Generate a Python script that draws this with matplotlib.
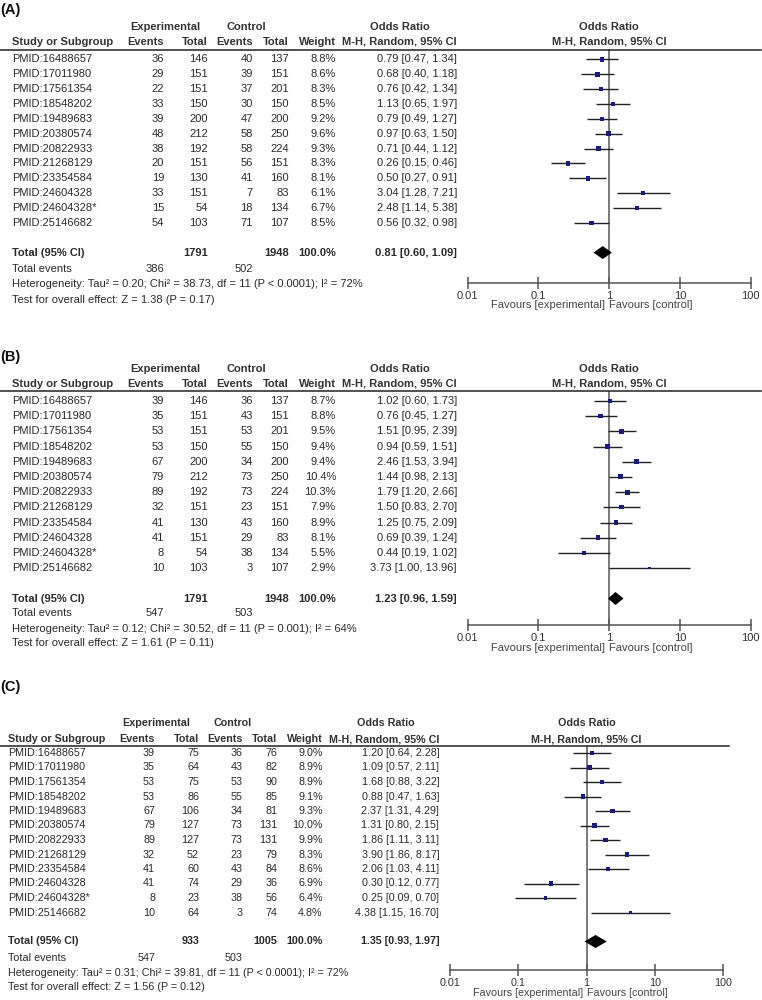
import matplotlib
matplotlib.use("Agg")
import matplotlib.pyplot as plt
from matplotlib.lines import Line2D
import numpy as np

plt.rcParams['font.family'] = ['Liberation Sans', 'DejaVu Sans']

# ---------------- data ----------------
studies = ["PMID:16488657", "PMID:17011980", "PMID:17561354", "PMID:18548202",
           "PMID:19489683", "PMID:20380574", "PMID:20822933", "PMID:21268129",
           "PMID:23354584", "PMID:24604328", "PMID:24604328*", "PMID:25146682"]

# Panel A
a_exp_events = [36, 29, 22, 33, 39, 48, 38, 20, 19, 33, 15, 54]
a_exp_total = [146, 151, 151, 150, 200, 212, 192, 151, 130, 151, 54, 103]
a_ctl_events = [40, 39, 37, 30, 47, 58, 58, 56, 41, 7, 18, 71]
a_ctl_total = [137, 151, 201, 150, 200, 250, 224, 151, 160, 83, 134, 107]
a_weight = [8.8, 8.6, 8.3, 8.5, 9.2, 9.6, 9.3, 8.3, 8.1, 6.1, 6.7, 8.5]
a_or = [0.79, 0.68, 0.76, 1.13, 0.79, 0.97, 0.71, 0.26, 0.50, 3.04, 2.48, 0.56]
a_lo = [0.47, 0.40, 0.42, 0.65, 0.49, 0.63, 0.44, 0.15, 0.27, 1.28, 1.14, 0.32]
a_hi = [1.34, 1.18, 1.34, 1.97, 1.27, 1.50, 1.12, 0.46, 0.91, 7.21, 5.38, 0.98]
a_total = (1791, 1948, 100.0, 0.81, 0.60, 1.09)
a_events = (386, 502)
a_het = "Heterogeneity: Tau² = 0.20; Chi² = 38.73, df = 11 (P < 0.0001); I² = 72%"
a_test = "Test for overall effect: Z = 1.38 (P = 0.17)"

# Panel B
b_exp_events = [39, 35, 53, 53, 67, 79, 89, 32, 41, 41, 8, 10]
b_exp_total = [146, 151, 151, 150, 200, 212, 192, 151, 130, 151, 54, 103]
b_ctl_events = [36, 43, 53, 55, 34, 73, 73, 23, 43, 29, 38, 3]
b_ctl_total = [137, 151, 201, 150, 200, 250, 224, 151, 160, 83, 134, 107]
b_weight = [8.7, 8.8, 9.5, 9.4, 9.4, 10.4, 10.3, 7.9, 8.9, 8.1, 5.5, 2.9]
b_or = [1.02, 0.76, 1.51, 0.94, 2.46, 1.44, 1.79, 1.50, 1.25, 0.69, 0.44, 3.73]
b_lo = [0.60, 0.45, 0.95, 0.59, 1.53, 0.98, 1.20, 0.83, 0.75, 0.39, 0.19, 1.00]
b_hi = [1.73, 1.27, 2.39, 1.51, 3.94, 2.13, 2.66, 2.70, 2.09, 1.24, 1.02, 13.96]
b_total = (1791, 1948, 100.0, 1.23, 0.96, 1.59)
b_events = (547, 503)
b_het = "Heterogeneity: Tau² = 0.12; Chi² = 30.52, df = 11 (P = 0.001); I² = 64%"
b_test = "Test for overall effect: Z = 1.61 (P = 0.11)"

# Panel C
c_exp_events = [39, 35, 53, 53, 67, 79, 89, 32, 41, 41, 8, 10]
c_exp_total = [75, 64, 75, 86, 106, 127, 127, 52, 60, 74, 23, 64]
c_ctl_events = [36, 43, 53, 55, 34, 73, 73, 23, 43, 29, 38, 3]
c_ctl_total = [76, 82, 90, 85, 81, 131, 131, 79, 84, 36, 56, 74]
c_weight = [9.0, 8.9, 8.9, 9.1, 9.3, 10.0, 9.9, 8.3, 8.6, 6.9, 6.4, 4.8]
c_or = [1.20, 1.09, 1.68, 0.88, 2.37, 1.31, 1.86, 3.90, 2.06, 0.30, 0.25, 4.38]
c_lo = [0.64, 0.57, 0.88, 0.47, 1.31, 0.80, 1.11, 1.86, 1.03, 0.12, 0.09, 1.15]
c_hi = [2.28, 2.11, 3.22, 1.63, 4.29, 2.15, 3.11, 8.17, 4.11, 0.77, 0.70, 16.70]
c_total = (933, 1005, 100.0, 1.35, 0.93, 1.97)
c_events = (547, 503)
c_het = "Heterogeneity: Tau² = 0.31; Chi² = 39.81, df = 11 (P < 0.0001); I² = 72%"
c_test = "Test for overall effect: Z = 1.56 (P = 0.12)"

tick_vals = [0.01, 0.1, 1, 10, 100]
tick_labels = ["0.01", "0.1", "1", "10", "100"]

# ---------------- figure ----------------
W, H = 762, 1000
fig = plt.figure(figsize=(W / 100, H / 100), dpi=100)

TXT = '#2a2a2a'
HDR = '#333333'


def fx(x):
    return x / W


def fy(y):
    return 1 - y / H


def t(x, y, s, ha='left', bold=False, size=8, color=TXT):
    fig.text(fx(x), fy(y), s, ha=ha, va='center', fontsize=size,
             fontweight='bold' if bold else 'normal', color=color)


def panel(label, L, ev_e, tot_e, ev_c, tot_c, wt, orr, lo, hi, total, events, het, test):
    fs = L['fs']
    c = L['cols']
    t(0, L['label'], label, bold=True, size=10.5, color='#111111')
    # headers
    t(L['exp_c'], L['h1'], "Experimental", ha='center', bold=True, size=fs, color=HDR)
    t(L['ctl_c'], L['h1'], "Control", ha='center', bold=True, size=fs, color=HDR)
    t(L['or_c'], L['h1'], "Odds Ratio", ha='center', bold=True, size=fs, color=HDR)
    t(c[0], L['h2'], "Study or Subgroup", bold=True, size=fs, color=HDR)
    for xr, s in zip(c[1:], ["Events", "Total", "Events", "Total", "Weight",
                             "M-H, Random, 95% CI"]):
        t(xr, L['h2'], s, ha='right', bold=True, size=fs, color=HDR)
    x1 = L['x001'] + (L['x100'] - L['x001']) / 2
    t(x1, L['h1'], "Odds Ratio", ha='center', bold=True, size=fs, color=HDR)
    t(x1, L['h2'], "M-H, Random, 95% CI", ha='center', bold=True, size=fs, color=HDR)
    fig.add_artist(Line2D([0, fx(L['line_x1'])], [fy(L['line'])] * 2,
                          color='#222222', lw=1.1, transform=fig.transFigure))
    # rows
    n = len(studies)
    for i in range(n):
        y = L['row0'] + i * L['dy']
        t(c[0], y, studies[i], size=fs)
        t(c[1], y, str(ev_e[i]), ha='right', size=fs)
        t(c[2], y, str(tot_e[i]), ha='right', size=fs)
        t(c[3], y, str(ev_c[i]), ha='right', size=fs)
        t(c[4], y, str(tot_c[i]), ha='right', size=fs)
        t(c[5], y, f"{wt[i]:.1f}%", ha='right', size=fs)
        t(c[6], y, f"{orr[i]:.2f} [{lo[i]:.2f}, {hi[i]:.2f}]", ha='right', size=fs)
    ty = L['row0'] + (n + 1) * L['dy']
    t(c[0], ty, "Total (95% CI)", bold=True, size=fs)
    t(c[2], ty, str(total[0]), ha='right', bold=True, size=fs)
    t(c[4], ty, str(total[1]), ha='right', bold=True, size=fs)
    t(c[5], ty, f"{total[2]:.1f}%", ha='right', bold=True, size=fs)
    t(c[6], ty, f"{total[3]:.2f} [{total[4]:.2f}, {total[5]:.2f}]", ha='right', bold=True, size=fs)
    t(c[0], ty + L['off'][0], "Total events", size=fs)
    t(c[1], ty + L['off'][0], str(events[0]), ha='right', size=fs)
    t(c[3], ty + L['off'][0], str(events[1]), ha='right', size=fs)
    t(c[0], ty + L['off'][1], het, size=fs)
    t(c[0], ty + L['off'][2], test, size=fs)

    # forest axes
    top, bot = L['line'], L['axis']
    ax = fig.add_axes([fx(L['x001']), fy(bot), (L['x100'] - L['x001']) / W, (bot - top) / H])
    ax.set_xscale('log')
    ax.set_xlim(0.01, 100)
    ax.set_ylim((bot - L['row0']) / L['dy'], (top - L['row0']) / L['dy'])
    ax.patch.set_alpha(0)
    for s in ['top', 'left', 'right']:
        ax.spines[s].set_visible(False)
    ax.spines['bottom'].set_color('#555555')
    ax.spines['bottom'].set_linewidth(1.1)
    ax.set_yticks([])
    ax.set_xticks(tick_vals)
    ax.set_xticklabels(tick_labels)
    ax.minorticks_off()
    ax.tick_params(axis='x', direction='inout', length=8, width=1.1, color='#555555',
                   labelsize=fs, labelcolor='#333333', pad=1.5)
    ax.axvline(1, color='#7a7a7a', lw=1.4, zorder=1)
    rows = np.arange(n)
    ax.hlines(rows, lo, hi, color='#222222', lw=1.0, zorder=2)
    sizes = (1.55 * np.sqrt(np.array(wt)) * 0.72) ** 2
    ax.scatter(orr, rows, marker='s', s=sizes, color='#1c1c7a', zorder=3, linewidths=0)
    tr = n + 1
    h = 6.5 / L['dy']
    ax.fill([total[4], total[3], total[5], total[3]], [tr, tr - h, tr, tr + h],
            color='black', zorder=3, lw=0)
    t(x1 - 4, bot + L['fav'], "Favours [experimental]", ha='right', size=fs, color='#444444')
    t(x1 + 0, bot + L['fav'], "Favours [control]", ha='left', size=fs, color='#444444')


LA = dict(fs=8, label=10, h1=27, h2=42, line=49.5, line_x1=761, row0=59.5, dy=14.85,
          cols=[12, 164, 208, 253, 289, 336, 457], exp_c=165, ctl_c=246, or_c=400,
          x001=467.7, x100=750.7, axis=283, fav=22, off=(16, 31.5, 47))
LB = dict(fs=8, label=357, h1=369, h2=384, line=391, line_x1=761, row0=400.9, dy=15.2,
          cols=[12, 164, 208, 253, 289, 336, 457], exp_c=165, ctl_c=246, or_c=400,
          x001=467.7, x100=750.7, axis=625, fav=23, off=(15, 30, 45))
LC = dict(fs=7.75, label=687, h1=723, h2=739, line=745.7, line_x1=729, row0=753, dy=14.5,
          cols=[8, 155, 199, 242.7, 277.3, 322.7, 439.3], exp_c=156, ctl_c=233, or_c=386,
          x001=450, x100=723.3, axis=970, fav=23, off=(16.5, 31, 45.5))

panel("(A)", LA, a_exp_events, a_exp_total, a_ctl_events, a_ctl_total, a_weight,
      a_or, a_lo, a_hi, a_total, a_events, a_het, a_test)
panel("(B)", LB, b_exp_events, b_exp_total, b_ctl_events, b_ctl_total, b_weight,
      b_or, b_lo, b_hi, b_total, b_events, b_het, b_test)
panel("(C)", LC, c_exp_events, c_exp_total, c_ctl_events, c_ctl_total, c_weight,
      c_or, c_lo, c_hi, c_total, c_events, c_het, c_test)

fig.savefig("out.png", dpi=100, facecolor='white')
